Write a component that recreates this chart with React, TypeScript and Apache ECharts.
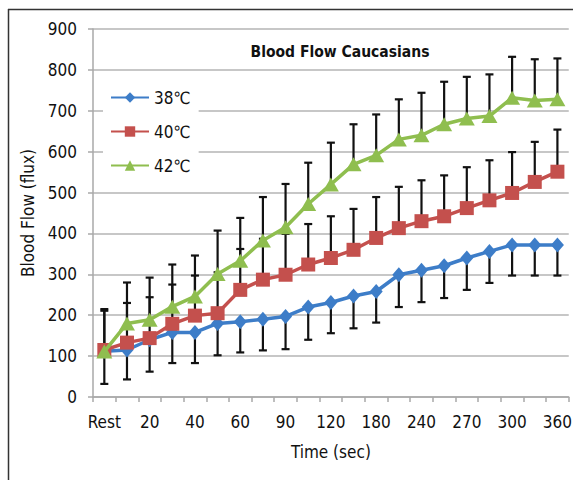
import React, { useEffect, useRef } from "react";
import * as echarts from "echarts";

const categories = ["Rest", "10", "20", "30", "40", "50", "60", "75", "90", "105", "120", "150", "180", "210", "240", "255", "270", "285", "300", "330", "360"];
const yTicks = [0, 100, 200, 300, 400, 500, 600, 700, 800, 900];

const flow38 = [112, 115, 140, 158, 158, 180, 184, 190, 197, 220, 231, 247, 258, 299, 310, 321, 340, 356, 372, 372, 372];
const err38 = [80, 72, 78, 75, 75, 78, 75, 76, 80, 80, 75, 79, 76, 79, 78, 79, 78, 77, 75, 75, 75];

const flow40 = [115, 133, 144, 179, 199, 205, 262, 287, 299, 324, 340, 360, 389, 413, 430, 442, 462, 481, 499, 526, 551];
const err40 = [100, 97, 100, 96, 98, 100, 100, 100, 100, 99, 102, 100, 100, 101, 100, 100, 100, 98, 100, 98, 103];

const flow42 = [111, 180, 189, 221, 246, 301, 333, 383, 415, 472, 520, 569, 591, 630, 640, 667, 681, 687, 732, 725, 728];
const err42 = [100, 100, 103, 103, 100, 106, 105, 106, 106, 101, 102, 98, 100, 98, 104, 104, 102, 102, 100, 101, 100];

const FONT = "'Liberation Sans Narrow', 'DejaVu Sans Condensed', 'Roboto Condensed', sans-serif";

function errorSeries(name: string, values: number[], errs: number[], dir: "up" | "down") {
  const data = values.map((v, i) => (dir === "up" ? [i, v, v + errs[i]] : [i, v - errs[i], v]));
  return {
    type: "custom",
    name,
    z: 1,
    silent: true,
    renderItem: (params: any, api: any) => {
      const i = api.value(0);
      const lo = api.coord([i, api.value(1)]);
      const hi = api.coord([i, api.value(2)]);
      const cap = 4;
      const style = { stroke: "#111", lineWidth: 2.2 };
      const endY = dir === "up" ? hi[1] : lo[1];
      return {
        type: "group",
        children: [
          { type: "line", shape: { x1: lo[0], y1: lo[1], x2: hi[0], y2: hi[1] }, style },
          { type: "line", shape: { x1: lo[0] - cap, y1: endY, x2: lo[0] + cap, y2: endY }, style },
        ],
      };
    },
    encode: { x: 0, y: [1, 2] },
    data,
  };
}

export default function App() {
  const ref = useRef<HTMLDivElement>(null);
  useEffect(() => {
    if (!ref.current) return;
    const chart = echarts.init(ref.current, null, { renderer: "svg" });
    const lineBase = (name: string, data: number[], color: string, symbol: string, size: any, z: number) => ({
      type: "line",
      name,
      data,
      symbol,
      symbolSize: size,
      z,
      lineStyle: { color, width: 3.5 },
      itemStyle: { color },
    });
    chart.setOption({
      animation: false,
      backgroundColor: "#fff",
      textStyle: { fontFamily: FONT },
      title: {
        text: "Blood Flow Caucasians",
        left: 335,
        top: 39,
        textAlign: "center",
        textStyle: { fontFamily: FONT, fontWeight: "bold", fontSize: 15.5, color: "#111" },
      },
      legend: {
        orient: "vertical",
        left: 103,
        top: 78,
        padding: [11, 8, 10, 7],
        backgroundColor: "#fff",
        itemWidth: 38,
        itemHeight: 13,
        itemGap: 17,
        data: ["38℃", "40℃", "42℃"],
        textStyle: { fontFamily: FONT, fontSize: 17, color: "#111" },
      },
      grid: { left: 93, right: 6, top: 29, bottom: 83, containLabel: false },
      xAxis: {
        type: "category",
        data: categories,
        boundaryGap: true,
        name: "Time (sec)",
        nameLocation: "middle",
        nameGap: 46,
        nameTextStyle: { fontFamily: FONT, fontSize: 17, color: "#111" },
        axisLine: { lineStyle: { color: "#a8a8a8", width: 1.5 } },
        axisTick: { show: true, interval: 0, length: 5, lineStyle: { color: "#a8a8a8", width: 1.5 } },
        axisLabel: { interval: 1, margin: 16, fontFamily: FONT, fontSize: 17, color: "#111" },
        splitLine: { show: false },
      },
      yAxis: {
        type: "value",
        min: yTicks[0],
        max: yTicks[yTicks.length - 1],
        interval: 100,
        name: "Blood Flow (flux)",
        nameLocation: "middle",
        nameGap: 57,
        nameRotate: 90,
        nameTextStyle: { fontFamily: FONT, fontSize: 17, color: "#111" },
        axisLine: { show: true, lineStyle: { color: "#a8a8a8", width: 1.5 } },
        axisTick: { show: true, length: 5, lineStyle: { color: "#a8a8a8", width: 1.5 } },
        axisLabel: { margin: 16, fontFamily: FONT, fontSize: 17, color: "#111" },
        splitLine: { show: true, lineStyle: { color: "#b4b4b4", width: 1.5 } },
      },
      graphic: [
        { type: "line", silent: true, shape: { x1: 8, y1: 9.5, x2: 573, y2: 9.5 }, style: { stroke: "#333", lineWidth: 1.5 } },
        { type: "line", silent: true, shape: { x1: 8.5, y1: 9, x2: 8.5, y2: 480 }, style: { stroke: "#333", lineWidth: 1.5 } },
      ],
      series: [
        errorSeries("err38", flow38, err38, "down"),
        errorSeries("err40", flow40, err40, "up"),
        errorSeries("err42", flow42, err42, "up"),
        lineBase("38℃", flow38, "#3d7dc8", "diamond", [13, 15], 3),
        lineBase("40℃", flow40, "#c4504d", "rect", 14, 4),
        lineBase("42℃", flow42, "#8fbe4f", "triangle", [16, 14], 5),
      ],
    });
    return () => chart.dispose();
  }, []);
  return <div ref={ref} style={{ position: "absolute", left: 0, top: 0, width: 575, height: 480 }} />;
}
